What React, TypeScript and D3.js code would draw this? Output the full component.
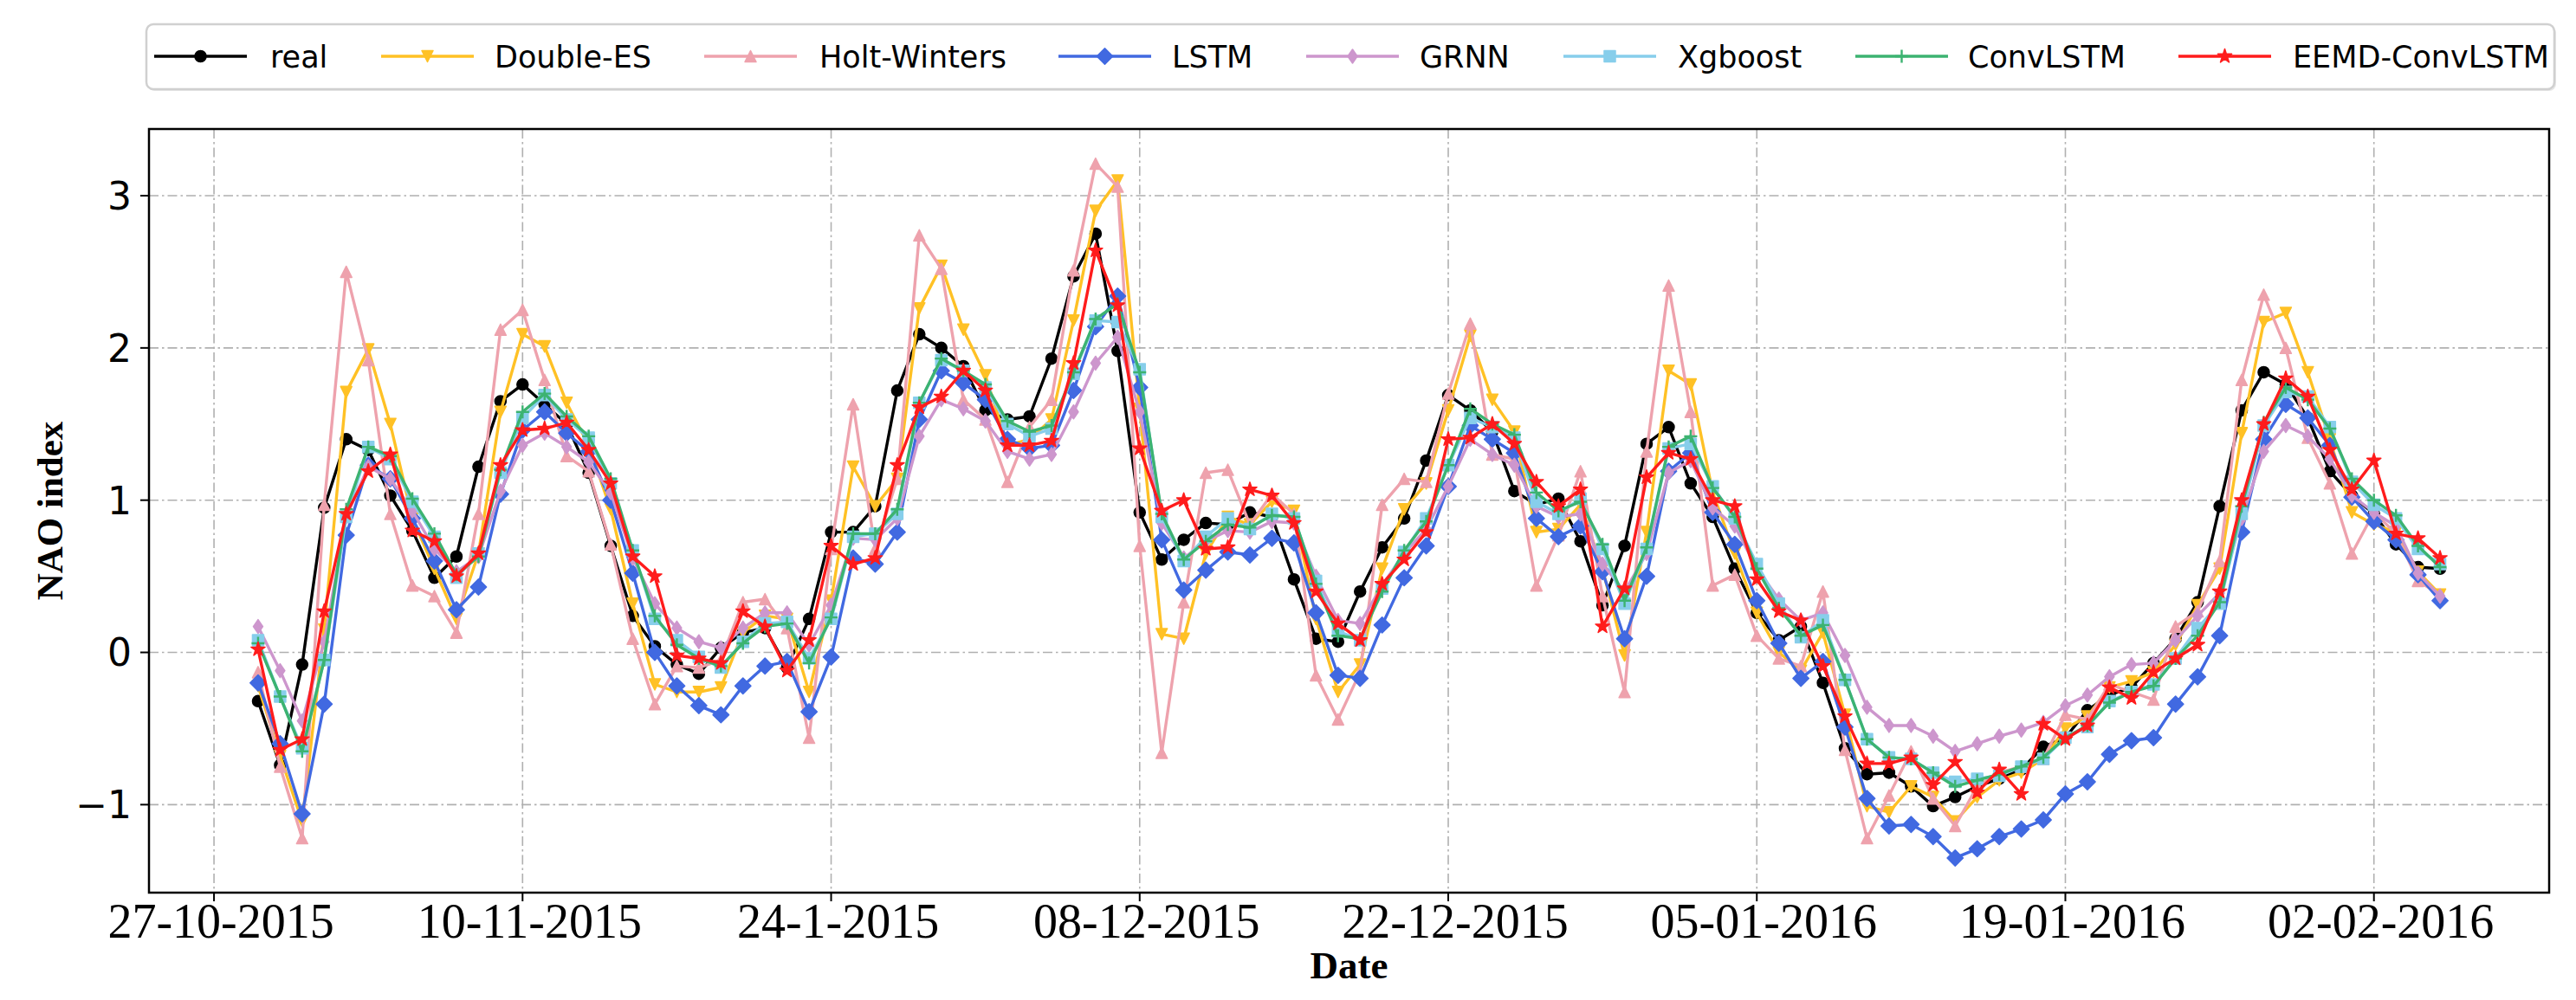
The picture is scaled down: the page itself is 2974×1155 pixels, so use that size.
import React from "react";
import * as d3 from "d3";

// ---------------- DATA ----------------
const START_DATE = "2015-10-29";

const real = [-0.32,-0.74,-0.08,0.95,1.40,1.33,1.03,0.80,0.49,0.63,1.22,1.65,1.76,1.63,1.50,1.18,0.70,0.24,0.04,-0.08,-0.14,0.03,0.13,0.16,-0.10,0.22,0.79,0.79,0.96,1.72,2.09,2.00,1.88,1.59,1.53,1.55,1.93,2.47,2.75,1.98,0.92,0.61,0.74,0.85,0.84,0.92,0.89,0.48,0.09,0.07,0.40,0.69,0.88,1.26,1.69,1.59,1.45,1.06,0.97,1.01,0.73,0.31,0.70,1.37,1.48,1.11,0.89,0.55,0.26,0.08,0.17,-0.20,-0.63,-0.80,-0.79,-0.88,-1.01,-0.95,-0.88,-0.83,-0.77,-0.62,-0.56,-0.38,-0.28,-0.23,-0.07,0.09,0.33,0.96,1.59,1.84,1.76,1.54,1.19,1.03,0.91,0.71,0.56,0.55];

const doubleES = [-0.22,-0.68,-1.11,0.15,1.71,1.99,1.50,0.88,0.55,0.22,0.65,1.58,2.09,2.01,1.64,1.36,0.94,0.32,-0.21,-0.26,-0.26,-0.23,0.13,0.24,0.22,-0.26,0.34,1.22,0.96,1.14,2.26,2.54,2.12,1.82,1.36,1.40,1.53,2.18,2.90,3.10,1.60,0.12,0.09,0.65,0.89,0.84,0.99,0.93,0.22,-0.26,-0.08,0.55,0.94,1.11,1.59,2.08,1.66,1.45,0.79,0.81,0.97,0.55,-0.02,0.79,1.85,1.76,1.05,0.65,0.26,0.00,-0.12,0.13,-0.41,-1.01,-1.05,-0.88,-0.95,-1.11,-0.95,-0.84,-0.79,-0.70,-0.50,-0.42,-0.23,-0.19,-0.13,0.05,0.31,0.55,1.44,2.17,2.23,1.84,1.40,0.92,0.84,0.79,0.53,0.38];

const holtWinters = [-0.13,-0.75,-1.22,0.97,2.50,1.92,0.91,0.44,0.37,0.13,0.91,2.12,2.25,1.79,1.29,1.19,0.71,0.09,-0.34,-0.09,-0.10,-0.05,0.33,0.35,0.16,-0.56,0.68,1.63,0.68,1.14,2.74,2.52,1.66,1.53,1.12,1.48,1.66,2.51,3.21,3.06,0.70,-0.66,0.33,1.18,1.20,0.84,1.04,0.91,-0.15,-0.44,-0.13,0.97,1.14,1.12,1.70,2.16,1.30,1.27,0.44,0.77,1.19,0.37,-0.26,1.32,2.41,1.58,0.44,0.51,0.11,-0.04,-0.09,0.40,-0.64,-1.22,-0.94,-0.65,-0.96,-1.14,-0.88,-0.79,-0.75,-0.70,-0.41,-0.44,-0.21,-0.26,-0.31,0.17,0.27,0.60,1.79,2.35,2.00,1.41,1.11,0.65,0.92,0.78,0.47,0.38];

const lstm = [-0.20,-0.60,-1.06,-0.34,0.77,1.23,1.14,0.88,0.60,0.28,0.43,1.04,1.46,1.58,1.44,1.32,1.00,0.52,0.00,-0.22,-0.35,-0.41,-0.22,-0.09,-0.06,-0.39,-0.03,0.62,0.58,0.79,1.53,1.85,1.77,1.66,1.40,1.34,1.36,1.72,2.14,2.34,1.74,0.74,0.41,0.54,0.66,0.64,0.75,0.72,0.26,-0.15,-0.17,0.18,0.49,0.70,1.09,1.49,1.40,1.31,0.88,0.76,0.83,0.53,0.09,0.50,1.19,1.31,0.92,0.71,0.34,0.06,-0.17,-0.06,-0.49,-0.96,-1.14,-1.13,-1.21,-1.35,-1.29,-1.21,-1.16,-1.10,-0.93,-0.85,-0.67,-0.58,-0.56,-0.34,-0.16,0.11,0.79,1.40,1.63,1.54,1.36,1.02,0.86,0.74,0.51,0.34];

const grnn = [0.17,-0.12,-0.45,0.07,0.89,1.22,1.14,0.93,0.68,0.53,0.63,1.06,1.36,1.44,1.35,1.25,1.05,0.62,0.32,0.16,0.07,0.03,0.16,0.26,0.26,0.05,0.31,0.75,0.74,0.88,1.42,1.66,1.60,1.52,1.32,1.27,1.30,1.58,1.90,2.07,1.58,0.85,0.62,0.73,0.80,0.79,0.86,0.85,0.50,0.21,0.19,0.44,0.65,0.81,1.09,1.40,1.30,1.23,0.96,0.89,0.91,0.58,0.40,0.65,1.18,1.26,0.95,0.83,0.55,0.35,0.21,0.26,-0.02,-0.36,-0.48,-0.48,-0.55,-0.65,-0.60,-0.55,-0.51,-0.46,-0.35,-0.28,-0.16,-0.08,-0.07,0.08,0.24,0.39,0.88,1.32,1.49,1.42,1.27,1.03,0.92,0.83,0.52,0.37];

const xgboost = [0.08,-0.29,-0.63,-0.05,0.89,1.35,1.27,0.99,0.76,0.49,0.65,1.18,1.54,1.69,1.53,1.41,1.11,0.67,0.22,0.08,-0.03,-0.10,0.07,0.19,0.20,-0.04,0.22,0.76,0.78,0.91,1.64,1.92,1.85,1.74,1.50,1.42,1.47,1.83,2.18,2.17,1.86,0.89,0.60,0.76,0.88,0.81,0.91,0.88,0.47,0.14,0.08,0.42,0.66,0.88,1.23,1.54,1.48,1.41,0.99,0.91,1.01,0.68,0.32,0.68,1.34,1.37,1.09,0.88,0.58,0.32,0.10,0.21,-0.18,-0.57,-0.69,-0.70,-0.79,-0.85,-0.83,-0.81,-0.75,-0.70,-0.56,-0.49,-0.32,-0.26,-0.21,-0.04,0.16,0.32,0.91,1.49,1.71,1.68,1.48,1.12,0.97,0.88,0.68,0.58];

const convLSTM = [0.06,-0.29,-0.65,-0.05,0.94,1.35,1.29,1.01,0.78,0.51,0.63,1.20,1.58,1.70,1.55,1.42,1.14,0.67,0.24,0.05,-0.04,-0.09,0.06,0.17,0.19,-0.07,0.23,0.78,0.78,0.94,1.64,1.93,1.85,1.76,1.52,1.45,1.49,1.84,2.19,2.29,1.84,0.91,0.61,0.73,0.84,0.82,0.90,0.89,0.45,0.11,0.09,0.40,0.67,0.86,1.23,1.60,1.50,1.43,1.05,0.93,0.99,0.71,0.34,0.69,1.35,1.42,1.08,0.89,0.55,0.29,0.11,0.18,-0.18,-0.57,-0.69,-0.70,-0.79,-0.88,-0.84,-0.80,-0.75,-0.69,-0.56,-0.48,-0.33,-0.26,-0.22,-0.04,0.11,0.33,0.96,1.51,1.74,1.66,1.47,1.14,1.00,0.90,0.70,0.56];

const eemdConvLSTM = [0.02,-0.64,-0.57,0.27,0.91,1.19,1.30,0.80,0.73,0.50,0.65,1.23,1.46,1.47,1.51,1.33,1.11,0.63,0.50,-0.02,-0.04,-0.07,0.27,0.17,-0.12,0.08,0.70,0.58,0.62,1.23,1.61,1.68,1.85,1.72,1.36,1.36,1.39,1.90,2.64,2.28,1.34,0.93,1.00,0.68,0.69,1.07,1.03,0.85,0.40,0.19,0.08,0.45,0.61,0.79,1.40,1.41,1.50,1.37,1.12,0.96,1.07,0.17,0.42,1.15,1.31,1.27,1.00,0.96,0.48,0.27,0.21,-0.09,-0.42,-0.73,-0.73,-0.69,-0.87,-0.72,-0.92,-0.77,-0.93,-0.47,-0.57,-0.48,-0.23,-0.30,-0.13,-0.04,0.05,0.40,1.00,1.50,1.80,1.68,1.33,1.07,1.26,0.78,0.75,0.62];

const seriesNames = ["real","Double-ES","Holt-Winters","LSTM","GRNN","Xgboost","ConvLSTM","EEMD-ConvLSTM"];
const seriesValues = [real, doubleES, holtWinters, lstm, grnn, xgboost, convLSTM, eemdConvLSTM];

const xTickDates = ["2015-10-27","2015-11-10","2015-11-24","2015-12-08","2015-12-22","2016-01-05","2016-01-19","2016-02-02"];
const xTickLabels = ["27-10-2015","10-11-2015","24-1-2015","08-12-2015","22-12-2015","05-01-2016","19-01-2016","02-02-2016"];
const yTicks = [-1, 0, 1, 2, 3];

// ---------------- STYLE ----------------
const COLORS = ["#000000","#FFC125","#EEA2AD","#4169E1","#CD96CD","#87CEEB","#3CB371","#FF1C1C"];
const MARKERS = ["circle","tri_down","tri_up","diamond","thin_diamond","square","plus","star"];

const W = 2974, H = 1155;
const M = { left: 172, right: 2943, top: 149, bottom: 1031 };

function markerPath(kind: string): string {
  const r = 6.5;
  switch (kind) {
    case "circle": return d3.symbol(d3.symbolCircle, Math.PI * r * r)() as string;
    case "tri_up": return `M0,${-r}L${r},${r}L${-r},${r}Z`;
    case "tri_down": return `M0,${r}L${r},${-r}L${-r},${-r}Z`;
    case "diamond": { const a = 9.2; return `M0,${-a}L${a},0L0,${a}L${-a},0Z`; }
    case "thin_diamond": { const a = 8, b = 5.5; return `M0,${-a}L${b},0L0,${a}L${-b},0Z`; }
    case "square": return `M${-r},${-r}H${r}V${r}H${-r}Z`;
    case "plus": return `M${-r - 1},0H${r + 1}M0,${-r - 1}V${r + 1}`;
    case "star": {
      const ro = 8.5, ri = ro * 0.381966;
      const pts: string[] = [];
      for (let i = 0; i < 10; i++) {
        const ang = -Math.PI / 2 + (i * Math.PI) / 5;
        const rr = i % 2 === 0 ? ro : ri;
        pts.push(`${(rr * Math.cos(ang)).toFixed(2)},${(rr * Math.sin(ang)).toFixed(2)}`);
      }
      return "M" + pts.join("L") + "Z";
    }
  }
  return "";
}

function Marker({ kind, color, x, y }: { kind: string; color: string; x: number; y: number }) {
  const d = markerPath(kind);
  if (kind === "plus") {
    return <path d={d} transform={`translate(${x},${y})`} stroke={color} strokeWidth={2.4} fill="none" />;
  }
  return <path d={d} transform={`translate(${x},${y})`} fill={color} stroke={color} strokeWidth={1.5} strokeLinejoin="round" />;
}

export default function App() {
  const start = d3.utcParse("%Y-%m-%d")(START_DATE) as Date;
  const n = real.length;
  const dates = d3.range(n).map((i) => d3.utcDay.offset(start, i));
  const span = +dates[n - 1] - +dates[0];
  const x = d3.scaleUtc()
    .domain([new Date(+dates[0] - 0.05 * span), new Date(+dates[n - 1] + 0.05 * span)])
    .range([M.left, M.right]);

  const allVals = seriesValues.flat();
  const [vmin, vmax] = d3.extent(allVals) as [number, number];
  const pad = (vmax - vmin) * 0.05;
  const y = d3.scaleLinear().domain([vmin - pad, vmax + pad]).range([M.bottom, M.top]);

  const line = d3.line<number>().x((_, i) => x(dates[i])).y((v) => y(v));
  const parse = d3.utcParse("%Y-%m-%d");

  const gridDash = "11,4,2.5,4";

  const legendHandleX = [178, 440, 813, 1222, 1508, 1805, 2142, 2515];
  const legendTextX = [312, 571, 946, 1353, 1639, 1937, 2272, 2647];
  const legendY = 65;

  return (
    <svg width={W} height={H} style={{ position: "absolute", left: 0, top: 0, background: "#fff", display: "block" }}>
      <rect x={0} y={0} width={W} height={H} fill="#fff" />
      {/* grid */}
      <g>
        {xTickDates.map((t, i) => {
          const xx = x(parse(t) as Date);
          return <line key={"gx" + i} x1={xx} x2={xx} y1={M.top} y2={M.bottom} stroke="#b0b0b0" strokeWidth={1.6} strokeDasharray={gridDash} />;
        })}
        {yTicks.map((t, i) => (
          <line key={"gy" + i} x1={M.left} x2={M.right} y1={y(t)} y2={y(t)} stroke="#b0b0b0" strokeWidth={1.6} strokeDasharray={gridDash} />
        ))}
      </g>
      {/* series */}
      {seriesValues.map((vals, si) => (
        <g key={"s" + si}>
          <path d={line(vals) as string} fill="none" stroke={COLORS[si]} strokeWidth={3.4} strokeLinejoin="round" />
          {vals.map((v, i) => (
            <Marker key={i} kind={MARKERS[si]} color={COLORS[si]} x={x(dates[i])} y={y(v)} />
          ))}
        </g>
      ))}
      {/* spines */}
      <rect x={M.left} y={M.top} width={M.right - M.left} height={M.bottom - M.top} fill="none" stroke="#000" strokeWidth={2.5} />
      {/* x ticks */}
      {xTickDates.map((t, i) => {
        const xx = x(parse(t) as Date);
        return (
          <g key={"xt" + i}>
            <line x1={xx} x2={xx} y1={M.bottom} y2={M.bottom + 10} stroke="#000" strokeWidth={2} />
            <text x={xx + 8} y={1083} textAnchor="middle" fontFamily="'Liberation Serif', serif" fontSize={56} fill="#000">
              {xTickLabels[i]}
            </text>
          </g>
        );
      })}
      {/* y ticks */}
      {yTicks.map((t, i) => (
        <g key={"yt" + i}>
          <line x1={M.left - 10} x2={M.left} y1={y(t)} y2={y(t)} stroke="#000" strokeWidth={2} />
          <text x={M.left - 20} y={y(t)} dy="0.36em" textAnchor="end" fontFamily="'DejaVu Sans', sans-serif" fontSize={44} fill="#000">
            {t < 0 ? "\u2212" + Math.abs(t) : String(t)}
          </text>
        </g>
      ))}
      {/* axis labels */}
      <text x={(M.left + M.right) / 2} y={1130} textAnchor="middle" fontFamily="'Liberation Serif', serif" fontWeight="bold" fontSize={45} fill="#000">Date</text>
      <text transform={`translate(57,${(M.top + M.bottom) / 2}) rotate(-90)`} textAnchor="middle" dy="0.35em" fontFamily="'Liberation Serif', serif" fontWeight="bold" fontSize={43} fill="#000">NAO index</text>
      {/* legend */}
      <g>
        <rect x={171} y={30} width={2780} height={75} rx={8} ry={8} fill="#e6e6e6" stroke="none" />
        <rect x={169} y={28} width={2780} height={75} rx={8} ry={8} fill="#fff" stroke="#d0d0d0" strokeWidth={2.5} />
        {seriesNames.map((name, si) => (
          <g key={"lg" + si}>
            <line x1={legendHandleX[si]} x2={legendHandleX[si] + 107} y1={legendY} y2={legendY} stroke={COLORS[si]} strokeWidth={3.4} />
            <Marker kind={MARKERS[si]} color={COLORS[si]} x={legendHandleX[si] + 53.5} y={legendY} />
            <text x={legendTextX[si]} y={legendY} dy="0.36em" fontFamily="'DejaVu Sans', sans-serif" fontSize={35} fill="#000">{name}</text>
          </g>
        ))}
      </g>
    </svg>
  );
}
